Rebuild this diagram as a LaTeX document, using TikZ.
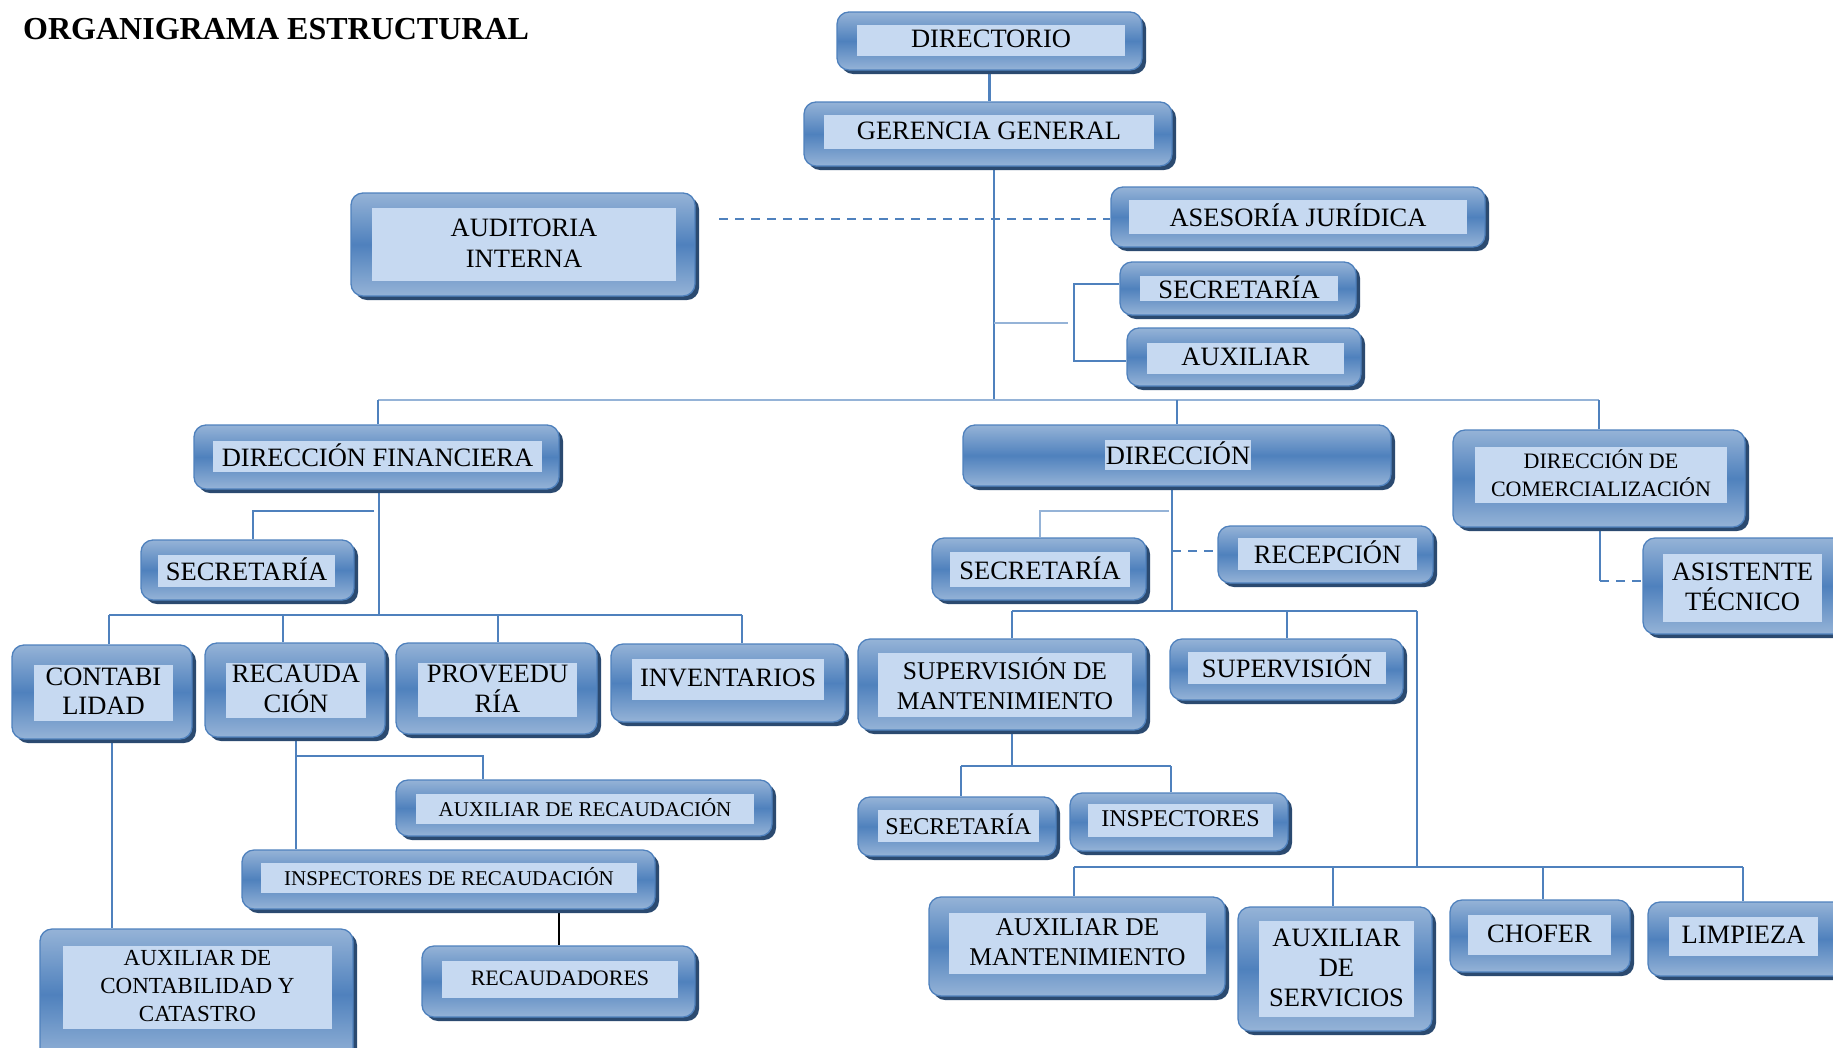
\documentclass[tikz,border=0pt]{standalone}
\usepackage{fontspec}
\setmainfont{Liberation Serif}
\usetikzlibrary{fit}

\definecolor{edgeblue}{HTML}{4F81BD}
\definecolor{paleblue}{HTML}{95B3D7}
\definecolor{innerblue}{HTML}{C6D9F1}
\definecolor{shadowblue}{HTML}{2B4A70}

\pgfdeclarelayer{bg}
\pgfsetlayers{bg,main}

\tikzset{
  unitbody/.style={rounded corners=12pt, draw=edgeblue, line width=1.3pt,
    top color=paleblue, bottom color=paleblue, middle color=edgeblue, inner sep=0pt},
  unitshadow/.style={fill=shadowblue, rounded corners=12pt},
  unitinner/.style={fill=innerblue, inner sep=0pt},
  unittext/.style={align=center, inner sep=0pt, text=black, yshift=1.5pt},
  conn/.style={draw=edgeblue, line width=2.2pt},
  connpale/.style={draw=paleblue, line width=2.2pt},
  conndash/.style={draw=edgeblue, line width=2.2pt, dash pattern=on 9pt off 7pt},
}

% #1 name, #2/#3 body corners, #4/#5 label panel corners,
% #6 font size, #7 line skip, #8 text
\newcommand\orgunit[8]{%
  \fill[unitshadow, shift={(4,4)}] (#2) rectangle (#3);
  \node[unitbody, fit={(#2) (#3)}] (#1) {};
  \node[unitinner, fit={(#4) (#5)}] (#1-in) {};
  \node[unittext, font=\fontsize{#6}{#7}\selectfont] (#1-t) at (#1-in.center) {#8};
}

\begin{document}
\begin{tikzpicture}[x=1pt, y=-1pt]
\useasboundingbox (0,0) rectangle (1833,1047);
\clip (0,0) rectangle (1833,1047);

\node[anchor=west, inner sep=0pt, font=\bfseries\fontsize{32}{36}\selectfont] (title) at (23,29) {ORGANIGRAMA ESTRUCTURAL};

% top level
\orgunit{dir}{837,12}{1142,70}{857,25}{1125,56}{26.5}{30}{DIRECTORIO}
\orgunit{gg}{804,102}{1172,166}{824,115}{1154,149}{26.5}{30}{GERENCIA GENERAL}
\orgunit{aud}{351,193}{695,296}{372,208}{676,281}{26.5}{31}{AUDITORIA\\INTERNA}
\orgunit{ase}{1111,187}{1485,247}{1129,200}{1467,234}{26.5}{30}{ASESORÍA JURÍDICA}
\orgunit{sec1}{1120,262}{1356,315}{1140,276}{1338,301}{26.5}{30}{SECRETARÍA}
\orgunit{aux1}{1127,328}{1361,386}{1147,343}{1344,374}{26.5}{30}{AUXILIAR}

% directions
\orgunit{dirfin}{194,425}{559,489}{213,441}{542,472}{26.5}{30}{DIRECCIÓN FINANCIERA}
\orgunit{direc}{963,425}{1391,486}{1105,440}{1251,470}{26.5}{30}{DIRECCIÓN}
\orgunit{com}{1453,430}{1745,527}{1475,447}{1727,503}{22}{28}{DIRECCIÓN DE\\COMERCIALIZACIÓN}
\orgunit{asis}{1643,538}{1845,634}{1663,554}{1822,622}{26.5}{30}{ASISTENTE\\TÉCNICO}

% financial branch
\orgunit{sec2}{141,540}{354,600}{158,555}{335,587}{26.5}{30}{SECRETARÍA}
\orgunit{cont}{12,645}{192,739}{34,665}{173,721}{26.5}{29}{CONTABI\\LIDAD}
\orgunit{rec}{205,643}{385,737}{226,663}{366,718}{26.5}{30}{RECAUDA\\CIÓN}
\orgunit{prov}{396,643}{597,734}{418,663}{577,717}{26.5}{30}{PROVEEDU\\RÍA}
\orgunit{inv}{611,644}{845,722}{632,659}{824,700}{26.5}{30}{INVENTARIOS}
\orgunit{auxcont}{40,929}{353,1060}{63,946}{332,1029}{23}{28}{AUXILIAR DE\\CONTABILIDAD Y\\CATASTRO}
\orgunit{auxrec}{396,780}{772,836}{416,794}{754,824}{21}{25}{AUXILIAR DE RECAUDACIÓN}
\orgunit{insprec}{242,850}{655,909}{261,863}{637,893}{21}{25}{INSPECTORES DE RECAUDACIÓN}
\orgunit{recaud}{422,946}{695,1017}{442,961}{678,998}{22}{26}{RECAUDADORES}

% operations branch
\orgunit{sec3}{932,538}{1146,600}{950,552}{1130,587}{26.5}{30}{SECRETARÍA}
\orgunit{recep}{1218,526}{1433,583}{1238,538}{1417,570}{26.5}{30}{RECEPCIÓN}
\orgunit{supm}{858,639}{1146,730}{878,653}{1132,717}{25.5}{30}{SUPERVISIÓN DE\\MANTENIMIENTO}
\orgunit{sup}{1170,639}{1403,700}{1188,652}{1386,684}{26.5}{30}{SUPERVISIÓN}
\orgunit{sec4}{858,797}{1056,856}{878,810}{1039,842}{24}{28}{SECRETARÍA}
\orgunit{insp}{1070,793}{1288,851}{1088,804}{1273,837}{24}{28}{INSPECTORES}
\orgunit{auxm}{929,897}{1225,996}{949,913}{1206,974}{25.5}{30}{AUXILIAR DE\\MANTENIMIENTO}
\orgunit{auxs}{1238,907}{1432,1031}{1259,921}{1414,1017}{26.5}{30}{AUXILIAR\\DE\\SERVICIOS}
\orgunit{chof}{1450,900}{1630,972}{1468,915}{1611,955}{26.5}{30}{CHOFER}
\orgunit{limp}{1648,902}{1845,976}{1669,917}{1818,956}{26.5}{30}{LIMPIEZA}

% junction points
\coordinate (m) at (994,400);
\coordinate (bt) at (1074,284);
\coordinate (bm) at (1074,323);
\coordinate (bb) at (1074,361);
\coordinate (d0) at (719,219);
\coordinate (b1) at (378,400);
\coordinate (b3) at (1599,400);
\coordinate (fb) at (379,615);
\coordinate (s2) at (253,511);
\coordinate (l1) at (109,615);
\coordinate (l2) at (283,615);
\coordinate (l3) at (498,615);
\coordinate (l4) at (742,615);
\coordinate (cx) at (112,743);
\coordinate (r1) at (296,756);
\coordinate (r2) at (483,756);
\coordinate (dv) at (1172,611);
\coordinate (s3) at (1040,511);
\coordinate (rc) at (1178,551);
\coordinate (q1) at (1012,611);
\coordinate (q2) at (1287,611);
\coordinate (q3) at (1417,611);
\coordinate (mv) at (1012,766);
\coordinate (m1) at (961,766);
\coordinate (m2) at (1171,766);
\coordinate (z0) at (1417,867);
\coordinate (z1) at (1074,867);
\coordinate (z2) at (1333,867);
\coordinate (z3) at (1543,867);
\coordinate (z4) at (1743,867);
\coordinate (k) at (1600,581);

\begin{pgfonlayer}{bg}
  % top chain
  \draw[conn] (dir.south) -- (dir.south |- gg.north);
  \draw[conn] (gg.south -| m) -- (m);
  \draw[conndash] (d0) -- (d0 -| ase.west);
  \draw[connpale] (m |- bm) -- ([xshift=-6pt]bm);
  \draw[conn] (sec1.west |- bt) -- (bt) -- (bb) -- (bb -| aux1.west);

  % main bus
  \draw[connpale] (b1) -- (b3);
  \draw[conn] (b1) -- (b1 |- dirfin.north);
  \draw[conn] (direc.north |- m) -- (direc.north);
  \draw[conn] (b3) -- (b3 |- com.north);

  % financial branch
  \draw[conn] (fb |- dirfin.south) -- (fb);
  \draw[conn] ([xshift=-5pt]fb |- s2) -- (s2) -- (s2 |- sec2.north);
  \draw[conn] (l1) -- (l4);
  \draw[conn] (l1) -- (l1 |- cont.north);
  \draw[conn] (l2) -- (l2 |- rec.north);
  \draw[conn] (l3) -- (l3 |- prov.north);
  \draw[conn] (l4) -- (l4 |- inv.north);
  \draw[conn] (cx |- cont.south) -- (cx |- auxcont.north);
  \draw[conn] (r1 |- rec.south) -- (r1 |- insprec.north);
  \draw[conn] (r1) -- (r2) -- (r2 |- auxrec.north);
  \draw[black, line width=2pt] (recaud.north |- insprec.south) -- (recaud.north);

  % operations branch
  \draw[conn] (dv |- direc.south) -- (dv);
  \draw[connpale] ([xshift=-3pt]dv |- s3) -- (s3) -- (s3 |- sec3.north);
  \draw[conndash] (dv |- rc) -- (rc -| recep.west);
  \draw[conn] (q1) -- (q3);
  \draw[conn] (q1) -- (q1 |- supm.north);
  \draw[conn] (q2) -- (q2 |- sup.north);
  \draw[conn] (q3) -- (z0);
  \draw[conn] (mv |- supm.south) -- (mv);
  \draw[conn] (m1) -- (m2);
  \draw[conn] (m1) -- (m1 |- sec4.north);
  \draw[conn] (m2) -- (m2 |- insp.north);
  \draw[conn] (z1) -- (z4);
  \draw[conn] (z1) -- (z1 |- auxm.north);
  \draw[conn] (z2) -- (z2 |- auxs.north);
  \draw[conn] (z3) -- (z3 |- chof.north);
  \draw[conn] (z4) -- (z4 |- limp.north);

  % commercial branch
  \draw[conn] (k |- com.south) -- (k);
  \draw[conndash] (k) -- (k -| asis.west);
\end{pgfonlayer}
\end{tikzpicture}
\end{document}
